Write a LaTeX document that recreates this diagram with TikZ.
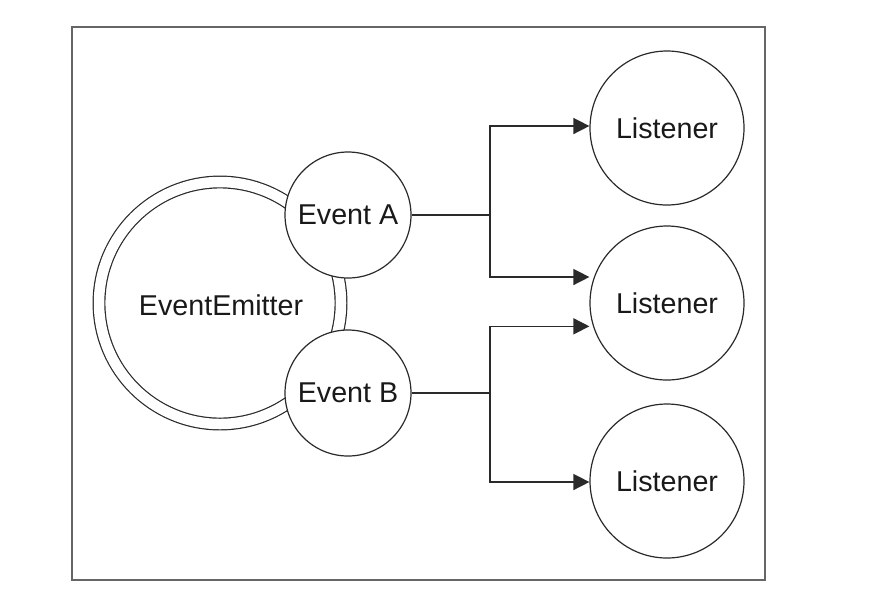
\documentclass[tikz,border=0pt]{standalone}
\usepackage{fontspec}
\setmainfont{Liberation Sans}
\usetikzlibrary{arrows.meta}
\definecolor{ln}{HTML}{2A2A2A}
\definecolor{fr}{HTML}{666666}
\tikzset{
  txt/.style={text=black!90, font=\fontsize{21.5}{25}\selectfont},
  bub/.style={circle, draw=ln, line width=0.9pt, fill=white, inner sep=0pt, txt},
  wire/.style={draw=ln, line width=1.1pt},
  arr/.style={wire, -{Triangle[length=12pt,width=12pt]}}
}
\begin{document}
\begin{tikzpicture}[x=0.75pt,y=-0.75pt]
\useasboundingbox (0,0) rectangle (880,612);
\node[draw=fr, line width=1.5pt, minimum width=693*0.75pt, minimum height=553*0.75pt, inner sep=0pt] (frame) at (418.5,303.5) {};
\node[circle, draw=ln, line width=0.9pt, double, double distance=10.5pt*0.75, minimum size=242*0.75pt, inner sep=0pt] (EE) at (220,303) {};
\node[txt] (EEt) at (221,305) {EventEmitter};
\node[bub, minimum size=126*0.75pt] (EA) at (348,215) {Event A};
\node[bub, minimum size=126*0.75pt] (EB) at (348,393) {Event B};
\node[bub, minimum size=154*0.75pt] (L1) at (667,128) {Listener};
\node[bub, minimum size=154*0.75pt] (L2) at (667,303) {Listener};
\node[bub, minimum size=154*0.75pt] (L3) at (667,481) {Listener};
\coordinate (jA) at (490,215);
\coordinate (jB) at (490,393);
\draw[wire] (EA.east) -- (jA);
\draw[wire] (EB.east) -- (jB);
\draw[arr] (jA) |- ([yshift=1.5pt]L1.west);
\draw[arr] (jA) |- ([yshift=19.5pt]L2.west);
\draw[arr] (jB) |- ([yshift=-17.5pt]L2.west);
\draw[arr] (jB) |- ([yshift=-0.75pt]L3.west);
\end{tikzpicture}
\end{document}
